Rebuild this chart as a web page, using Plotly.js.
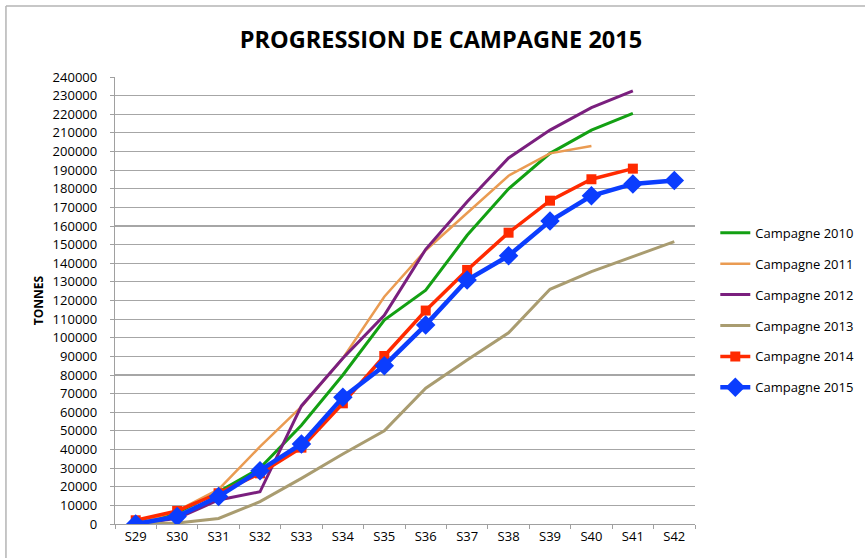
<!DOCTYPE html>
<html>
<head>
<meta charset="utf-8">
<script src="https://cdn.plot.ly/plotly-3.0.1.min.js"></script>
<style>
  html, body { margin: 0; padding: 0; background: #ffffff; }
  #chart { width: 865px; height: 558px; }
</style>
</head>
<body>
<div id="chart"></div>
<script>
const weeks = ["S29","S30","S31","S32","S33","S34","S35","S36","S37","S38","S39","S40","S41","S42"];
const yTicks = [0,10000,20000,30000,40000,50000,60000,70000,80000,90000,100000,110000,120000,130000,140000,150000,160000,170000,180000,190000,200000,210000,220000,230000,240000];

const c2010 = [1000, 6000, 17300, 30000, 53000, 80000, 109500, 125500, 155000, 180000, 199000, 211500, 220500, null];
const c2011 = [0, 7000, 18600, 41500, 63000, 89000, 122000, 147000, 167000, 187000, 199000, 203000, null, null];
const c2012 = [0, 3000, 12900, 17300, 63400, 89000, 112000, 147500, 173000, 196500, 211500, 223500, 232500, null];
const c2013 = [0, 500, 3000, 12000, 24500, 37600, 50000, 72900, 88000, 102700, 126000, 135500, 143600, 151600];
const c2014 = [2000, 7000, 16500, 27200, 41000, 64800, 90200, 114600, 136400, 156400, 173600, 185100, 190800, null];
const c2015 = [0, 4000, 14700, 28600, 43000, 68000, 85000, 106900, 131000, 144000, 162700, 176200, 182600, 184400];

const seriesNames = ["Campagne 2010","Campagne 2011","Campagne 2012","Campagne 2013","Campagne 2014","Campagne 2015"];

function tr(name, y, color, width, marker) {
  const t = {
    type: 'scatter', x: weeks, y: y, name: name, legendgroup: name,
    mode: marker ? 'lines+markers' : 'lines',
    line: { color: color, width: width },
    connectgaps: false
  };
  if (marker) t.marker = marker;
  return t;
}

const data = [
  tr(seriesNames[0], c2010, '#13a013', 3),
  tr(seriesNames[1], c2011, '#ea9b52', 2.5),
  tr(seriesNames[2], c2012, '#7a1f7e', 3),
  tr(seriesNames[3], c2013, '#a99c70', 3),
  tr(seriesNames[4], c2014, '#ff2a00', 3.5, { symbol: 'square', size: 10, color: '#ff2a00' }),
  tr(seriesNames[5], c2015, '#0b3dfe', 4.5, { symbol: 'diamond', size: 15, color: '#0b3dfe' })
];

const fontFam = '"Open Sans", "Noto Sans", sans-serif';

const layout = {
  width: 865, height: 558,
  paper_bgcolor: '#ffffff', plot_bgcolor: '#ffffff',
  margin: { l: 115, r: 170, t: 77, b: 34, pad: 0, autoexpand: false },
  font: { family: fontFam, size: 13, color: '#000000' },
  title: {
    text: '<b>PROGRESSION DE CAMPAGNE 2015</b>',
    font: { family: fontFam, size: 23.5, color: '#000000' },
    xref: 'paper', x: 0.562, xanchor: 'center',
    yref: 'container', y: 0.928, yanchor: 'middle'
  },
  xaxis: {
    type: 'category',
    categoryorder: 'array', categoryarray: weeks,
    range: [-0.5, 13.5],
    showgrid: false, zeroline: false,
    showline: true, linecolor: '#a0a0a0', linewidth: 1.2,
    ticks: 'outside', tickson: 'boundaries', ticklen: 4, tickcolor: '#a0a0a0',
    tickfont: { family: fontFam, size: 13, color: '#000000' },
    automargin: false,
    fixedrange: true
  },
  yaxis: {
    range: [0, 240000],
    tickmode: 'array', tickvals: yTicks, ticktext: yTicks.map(String),
    showgrid: true, gridcolor: '#a6a6a6', gridwidth: 1.2,
    zeroline: false,
    showline: true, linecolor: '#a0a0a0', linewidth: 1.2,
    ticks: 'outside', ticklen: 4, tickcolor: '#a0a0a0',
    ticklabelstandoff: 10,
    tickfont: { family: fontFam, size: 13, color: '#000000' },
    title: { text: '<b>TONNES</b>', font: { family: fontFam, size: 12, color: '#000000' }, standoff: 6 },
    automargin: false,
    fixedrange: true
  },
  showlegend: true,
  legend: {
    x: 1.035, xanchor: 'left', y: 0.478, yanchor: 'middle',
    traceorder: 'grouped', tracegroupgap: 11,
    font: { family: fontFam, size: 13, color: '#000000' },
    bgcolor: 'rgba(0,0,0,0)', borderwidth: 0,
    itemwidth: 30
  },
  shapes: [
    { type: 'line', xref: 'paper', yref: 'paper', x0: -0.188, x1: -0.188, y0: -0.2, y1: 1.159,
      line: { color: '#b4b4b4', width: 1.5 } },
    { type: 'line', xref: 'paper', yref: 'paper', x0: -0.188, x1: 1.4, y0: 1.159, y1: 1.159,
      line: { color: '#b4b4b4', width: 1.5 } }
  ]
};

Plotly.newPlot('chart', data, layout, { displayModeBar: false, staticPlot: true });
</script>
</body>
</html>
